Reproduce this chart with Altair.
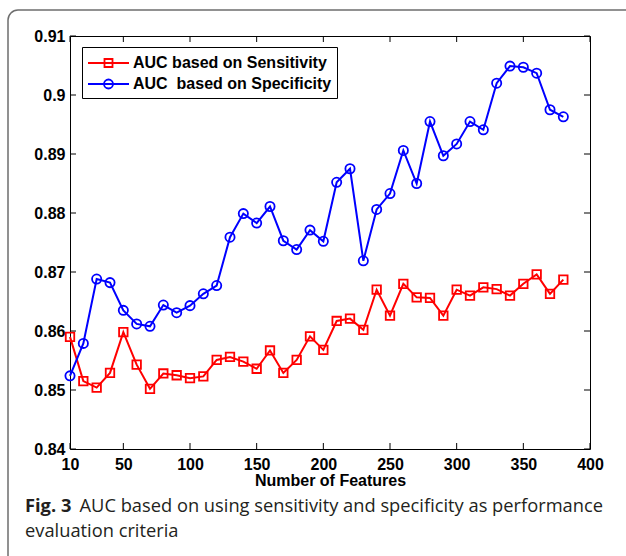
import altair as alt
import pandas as pd

# ---- data ----
features = [10, 20, 30, 40, 50, 60, 70, 80, 90, 100, 110, 120, 130, 140, 150, 160, 170, 180, 190,
            200, 210, 220, 230, 240, 250, 260, 270, 280, 290, 300, 310, 320, 330, 340, 350, 360, 370, 380]
auc_sensitivity = [0.8590, 0.8515, 0.8504, 0.8529, 0.8598, 0.8543, 0.8502, 0.8528, 0.8525, 0.8520,
                   0.8523, 0.8551, 0.8556, 0.8548, 0.8536, 0.8567, 0.8529, 0.8551, 0.8591, 0.8568,
                   0.8617, 0.8621, 0.8602, 0.8670, 0.8626, 0.8680, 0.8657, 0.8656, 0.8626, 0.8670,
                   0.8660, 0.8674, 0.8671, 0.8660, 0.8680, 0.8696, 0.8663, 0.8687]
auc_specificity = [0.8524, 0.8579, 0.8688, 0.8682, 0.8635, 0.8612, 0.8608, 0.8644, 0.8631, 0.8643,
                   0.8663, 0.8677, 0.8759, 0.8799, 0.8783, 0.8811, 0.8753, 0.8738, 0.8771, 0.8752,
                   0.8852, 0.8875, 0.8719, 0.8806, 0.8833, 0.8906, 0.8850, 0.8955, 0.8897, 0.8917,
                   0.8955, 0.8941, 0.9020, 0.9049, 0.9047, 0.9037, 0.8975, 0.8963]
series_names = ["AUC based on Sensitivity", "AUC\u00a0 based on Specificity"]
x_ticks = [10, 50, 100, 150, 200, 250, 300, 350, 400]
y_ticks = [0.84, 0.85, 0.86, 0.87, 0.88, 0.89, 0.90, 0.91]
x_title = "Number of Features"
caption_bold = ["Fig. 3"]
caption_line1 = ["AUC based on using sensitivity and specificity as performance"]
caption_line2 = ["evaluation criteria"]

W, H = 520, 413
RED, BLUE = "#ff0000", "#0000ff"
AX_FONT = "Liberation Sans"

df = pd.concat([
    pd.DataFrame({"x": features, "auc": auc_sensitivity, "series": series_names[0]}),
    pd.DataFrame({"x": features, "auc": auc_specificity, "series": series_names[1]}),
])

xs = alt.Scale(domain=[10, 400], nice=False, zero=False)
ys = alt.Scale(domain=[0.84, 0.91], nice=False, zero=False)
cscale = alt.Scale(domain=series_names, range=[RED, BLUE])

X = alt.X("x:Q", scale=xs, axis=alt.Axis(values=x_ticks, title=x_title, grid=False, domain=False,
                                         tickSize=0, labelPadding=7, titlePadding=0,
                                         labelFont=AX_FONT, labelFontWeight="bold", labelFontSize=16,
                                         titleFont=AX_FONT, titleFontWeight="bold", titleFontSize=16,
                                         labelColor="black", titleColor="black", labelFlush=False))
Y = alt.Y("auc:Q", scale=ys, axis=alt.Axis(values=y_ticks, format=".2~f", title=None, grid=False,
                                           domain=False, tickSize=0, labelPadding=5,
                                           labelFont=AX_FONT, labelFontWeight="bold", labelFontSize=16,
                                           labelColor="black", labelFlush=False))

base = alt.Chart(df)
sens = base.transform_filter(alt.datum.series == series_names[0])
spec = base.transform_filter(alt.datum.series == series_names[1])

line_sens = sens.mark_line(strokeWidth=2, color=RED).encode(x=X, y=Y)
line_spec = spec.mark_line(strokeWidth=2, color=BLUE).encode(x=X, y=Y)
pts_sens = sens.mark_point(shape="square", size=72, filled=False, strokeWidth=1.8, opacity=1,
                           color=RED).encode(x=X, y=Y)
pts_spec = spec.mark_point(shape="circle", size=85, filled=False, strokeWidth=1.8, opacity=1,
                           color=BLUE).encode(x=X, y=Y)

# legend: line with marker symbols (unit = sqrt(symbolSize)/2 px)
sym_sq = "M-1,0H3.1M0.65,-0.4H1.45V0.4H0.65Z"
sym_ci = "M-1,0H3.1M0.6,0A0.45,0.45,0,1,0,1.5,0A0.45,0.45,0,1,0,0.6,0Z"
leg = alt.Legend(orient="none", legendX=12, legendY=11, title=None, strokeColor="black",
                 fillColor="white", padding=5, labelFont=AX_FONT, labelFontWeight="bold",
                 labelFontSize=16, labelColor="black", symbolSize=400, symbolStrokeWidth=1.8,
                 labelOffset=24, rowPadding=2, labelLimit=400)
legend_layer = base.transform_filter("datum.x < 0").mark_point(filled=False, opacity=1).encode(
    x=X, y=Y,
    color=alt.Color("series:N", scale=cscale, legend=leg),
    shape=alt.Shape("series:N", scale=alt.Scale(domain=series_names, range=[sym_sq, sym_ci]), legend=leg),
)

# inward ticks on all four sides
xt = alt.Chart(pd.DataFrame({"x": x_ticks}))
yt = alt.Chart(pd.DataFrame({"auc": y_ticks}))
TL = 6
tick_b = xt.mark_rule(color="black", strokeWidth=1).encode(x=alt.X("x:Q", scale=xs), y=alt.value(H), y2=alt.value(H - TL))
tick_t = xt.mark_rule(color="black", strokeWidth=1).encode(x=alt.X("x:Q", scale=xs), y=alt.value(0), y2=alt.value(TL))
tick_l = yt.mark_rule(color="black", strokeWidth=1).encode(y=alt.Y("auc:Q", scale=ys), x=alt.value(0), x2=alt.value(TL))
tick_r = yt.mark_rule(color="black", strokeWidth=1).encode(y=alt.Y("auc:Q", scale=ys), x=alt.value(W), x2=alt.value(W - TL))

# figure frame and caption
frame = alt.Chart(pd.DataFrame({"k": [0]})).mark_rect(
    fill="transparent", stroke="#6e6e6e", strokeWidth=1.5, cornerRadius=10).encode(
    x=alt.value(-62), x2=alt.value(W + 60), y=alt.value(-26), y2=alt.value(H + 140))

CAP_FONT = "Open Sans"
CAP_SIZE = 18.3
cap_b = alt.Chart(pd.DataFrame({"t": caption_bold})).mark_text(
    font=CAP_FONT, fontSize=CAP_SIZE, fontWeight="bold", align="left", baseline="alphabetic", color="#231f20").encode(
    text="t:N", x=alt.value(-45), y=alt.value(476))
cap_1 = alt.Chart(pd.DataFrame({"t": caption_line1})).mark_text(
    font=CAP_FONT, fontSize=CAP_SIZE, align="left", baseline="alphabetic", color="#231f20").encode(
    text="t:N", x=alt.value(9.5), y=alt.value(476))
cap_2 = alt.Chart(pd.DataFrame({"t": caption_line2})).mark_text(
    font=CAP_FONT, fontSize=CAP_SIZE, align="left", baseline="alphabetic", color="#231f20").encode(
    text="t:N", x=alt.value(-45), y=alt.value(500.5))

chart = alt.layer(
    frame, line_sens, line_spec, pts_sens, pts_spec, legend_layer,
    tick_b, tick_t, tick_l, tick_r, cap_b, cap_1, cap_2
).properties(
    width=W, height=H,
    autosize=alt.AutoSizeParams(type="none"),
    padding={"left": 70, "top": 36, "right": 36, "bottom": 107},
    background="white",
).configure_view(stroke="black", strokeWidth=1)

chart.save("out.html", embed_options={"renderer": "svg", "actions": False})
